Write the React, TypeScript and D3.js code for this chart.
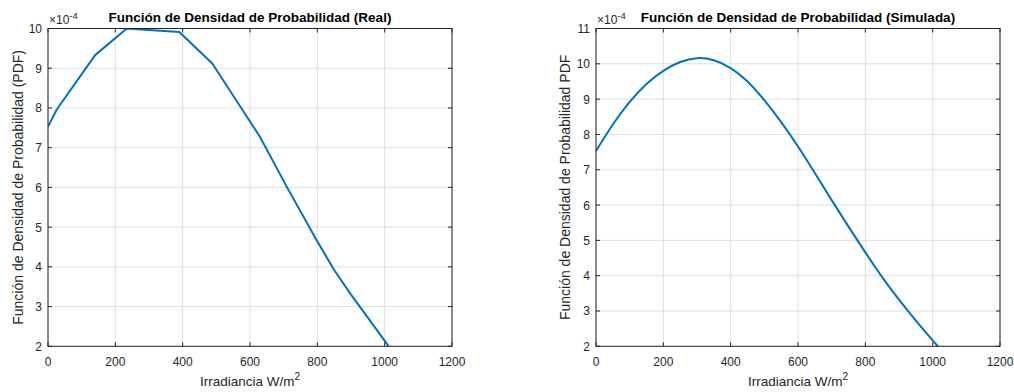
import React from "react";
import * as d3 from "d3";

const realX = [0, 26, 140, 234, 390, 488, 629, 709, 798, 850, 900, 950, 1012];
const realY = [7.53, 7.96, 9.33, 10.0, 9.91, 9.12, 7.28, 6.02, 4.67, 3.92, 3.3, 2.72, 2.0];

const simX = [0, 50, 100, 150, 200, 250, 300, 350, 400, 450, 500, 550, 600, 650, 700, 750, 800, 850, 900, 950, 1000, 1020];
const simY = [7.53, 8.28, 8.92, 9.43, 9.8, 10.05, 10.16, 10.1, 9.88, 9.5, 8.97, 8.35, 7.66, 6.91, 6.14, 5.39, 4.66, 3.96, 3.32, 2.73, 2.17, 1.95];

const xTicks = [0, 200, 400, 600, 800, 1000, 1200];
const realYTicks = [2, 3, 4, 5, 6, 7, 8, 9, 10];
const simYTicks = [2, 3, 4, 5, 6, 7, 8, 9, 10, 11];

const FONT = "'Liberation Sans', Arial, Helvetica, sans-serif";
const AX = "#262626";
const GRID = "#dfdfdf";
const LINE = "#0072BD";

type PanelProps = {
  id: string;
  left: number;
  right: number;
  top: number;
  bottom: number;
  xs: number[];
  ys: number[];
  yDomain: [number, number];
  yTicks: number[];
  title: string;
  yLabel: string;
  yLabelX: number;
  smooth: boolean;
};

function Panel(p: PanelProps) {
  const x = d3.scaleLinear().domain([0, 1200]).range([p.left, p.right]);
  const y = d3.scaleLinear().domain(p.yDomain).range([p.bottom, p.top]);
  const pts: [number, number][] = p.xs.map((v, i) => [v, p.ys[i]]);
  const line = d3
    .line<[number, number]>()
    .x((d) => x(d[0]))
    .y((d) => y(d[1]))
    .curve(p.smooth ? d3.curveNatural : d3.curveLinear);
  const tl = 4;
  const cx = (p.left + p.right) / 2;
  return (
    <g>
      <defs>
        <clipPath id={p.id}>
          <rect x={p.left} y={p.top} width={p.right - p.left} height={p.bottom - p.top} />
        </clipPath>
      </defs>
      <rect x={p.left} y={p.top} width={p.right - p.left} height={p.bottom - p.top} fill="#fff" />
      {xTicks.map((t) => (
        <line key={"gx" + t} x1={x(t)} x2={x(t)} y1={p.top} y2={p.bottom} stroke={GRID} strokeWidth={1} />
      ))}
      {p.yTicks.map((t) => (
        <line key={"gy" + t} x1={p.left} x2={p.right} y1={y(t)} y2={y(t)} stroke={GRID} strokeWidth={1} />
      ))}
      <path d={line(pts) || ""} fill="none" stroke={LINE} strokeWidth={2} clipPath={`url(#${p.id})`} strokeLinejoin="round" />
      <rect x={p.left} y={p.top} width={p.right - p.left} height={p.bottom - p.top} fill="none" stroke={AX} strokeWidth={1} />
      {xTicks.map((t) => (
        <g key={"tx" + t}>
          <line x1={x(t)} x2={x(t)} y1={p.bottom} y2={p.bottom - tl} stroke={AX} />
          <line x1={x(t)} x2={x(t)} y1={p.top} y2={p.top + tl} stroke={AX} />
          <text x={x(t)} y={p.bottom + 20} textAnchor="middle" fontSize={12} fill={AX} fontFamily={FONT}>
            {t}
          </text>
        </g>
      ))}
      {p.yTicks.map((t) => (
        <g key={"ty" + t}>
          <line x1={p.left} x2={p.left + tl} y1={y(t)} y2={y(t)} stroke={AX} />
          <line x1={p.right} x2={p.right - tl} y1={y(t)} y2={y(t)} stroke={AX} />
          <text x={p.left - 6} y={y(t) + 4.5} textAnchor="end" fontSize={12} fill={AX} fontFamily={FONT}>
            {t}
          </text>
        </g>
      ))}
      <text x={p.left + 1} y={p.top - 5} fontSize={12} fill={AX} fontFamily={FONT}>
        ×10
        <tspan fontSize={9.5} dy={-5}>-4</tspan>
      </text>
      <text x={cx} y={p.top - 7} textAnchor="middle" fontSize={13.5} fontWeight="bold" fill="#000" fontFamily={FONT}>
        {p.title}
      </text>
      <text x={cx} y={p.bottom + 40} textAnchor="middle" fontSize={13.5} fill={AX} fontFamily={FONT}>
        Irradiancia W/m
        <tspan fontSize={10} dy={-6}>2</tspan>
      </text>
      <text
        transform={`translate(${p.yLabelX},${(p.top + p.bottom) / 2}) rotate(-90)`}
        textAnchor="middle"
        fontSize={14}
        fill={AX}
        fontFamily={FONT}
      >
        {p.yLabel}
      </text>
    </g>
  );
}

export default function App() {
  return (
    <svg
      width={1014}
      height={392}
      style={{ position: "absolute", left: 0, top: 0, display: "block", background: "#fff" }}
    >
      <rect x={0} y={0} width={1014} height={392} fill="#fff" />
      <Panel
        id="clipA"
        left={48}
        right={452}
        top={28.5}
        bottom={346.3}
        xs={realX}
        ys={realY}
        yDomain={[2, 10]}
        yTicks={realYTicks}
        title="Función de Densidad de Probabilidad (Real)"
        yLabel="Función de Densidad de Probabilidad (PDF)"
        yLabelX={23}
        smooth={false}
      />
      <Panel
        id="clipB"
        left={596}
        right={1000}
        top={28.5}
        bottom={346.3}
        xs={simX}
        ys={simY}
        yDomain={[2, 11]}
        yTicks={simYTicks}
        title="Función de Densidad de Probabilidad (Simulada)"
        yLabel="Función de Densidad de Probabilidad PDF"
        yLabelX={570}
        smooth={true}
      />
    </svg>
  );
}
